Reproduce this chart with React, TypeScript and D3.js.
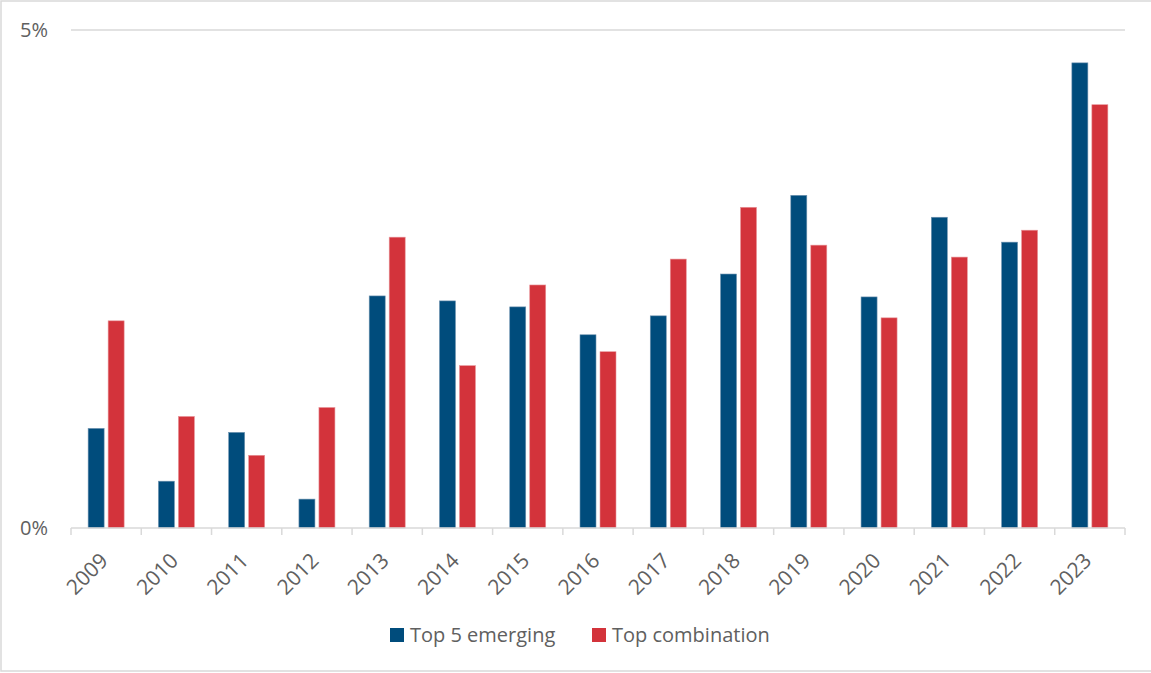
import React from "react";
import * as d3 from "d3";

const years = ["2009","2010","2011","2012","2013","2014","2015","2016","2017","2018","2019","2020","2021","2022","2023"];
const seriesNames = ["Top 5 emerging", "Top combination"];
const emerging = [1.0, 0.47, 0.96, 0.29, 2.33, 2.28, 2.22, 1.94, 2.13, 2.55, 3.34, 2.32, 3.12, 2.87, 4.67];
const combination = [2.08, 1.12, 0.73, 1.21, 2.92, 1.63, 2.44, 1.77, 2.70, 3.22, 2.84, 2.11, 2.72, 2.99, 4.25];
const yTicks = [0, 5];
const colors = ["#004C7C", "#D3333B"];

const W = 1151, H = 673;
const left = 71, right = 1125, top = 30, bottom = 528;
const FONT = "'Open Sans', 'Noto Sans', sans-serif";

export default function App() {
  const x0 = d3.scaleBand<string>().domain(years).range([left, right]).padding(0);
  const bw = x0.bandwidth();
  const x1 = d3.scaleBand<string>().domain(seriesNames).range([bw / 2 - 18, bw / 2 + 18]).paddingInner(0.2);
  const y = d3.scaleLinear().domain([0, 5]).range([bottom, top]);
  const data = [emerging, combination];

  return (
    <svg width={W} height={H} style={{ position: "absolute", left: 0, top: 0, background: "#fff" }}>
      <rect x={1} y={1} width={W + 5} height={670} fill="#fff" stroke="#d9d9d9" strokeWidth={1.5} />
      {yTicks.map((t) => (
        <g key={t}>
          {t !== 0 && <line x1={left} x2={right} y1={y(t)} y2={y(t)} stroke="#d9d9d9" strokeWidth={1.5} />}
          <text x={48} y={y(t)} dy="0.36em" textAnchor="end" fontFamily={FONT} fontSize={20} fill="#606060">
            {t}%
          </text>
        </g>
      ))}
      {years.map((yr, i) => (
        <g key={yr}>
          {data.map((vals, s) => (
            <rect
              key={s}
              x={(x0(yr) as number) + (x1(seriesNames[s]) as number)}
              y={y(vals[i])}
              width={x1.bandwidth()}
              height={y(0) - y(vals[i])}
              fill={colors[s]}
              stroke={s === 0 ? "#6f93b0" : "#e8959a"}
              strokeWidth={0.6}
            />
          ))}
        </g>
      ))}
      <line x1={left} x2={right} y1={bottom} y2={bottom} stroke="#d9d9d9" strokeWidth={1.5} />
      {d3.range(years.length + 1).map((i) => {
        const xx = left + i * bw;
        return <line key={i} x1={xx} x2={xx} y1={bottom} y2={bottom + 7} stroke="#d9d9d9" strokeWidth={1.5} />;
      })}
      {years.map((yr) => {
        const cx = (x0(yr) as number) + bw / 2;
        return (
          <text
            key={yr}
            transform={`translate(${cx + 3},${bottom + 34}) rotate(-45)`}
            textAnchor="end"
            fontFamily={FONT}
            fontSize={21}
            fill="#606060"
          >
            {yr}
          </text>
        );
      })}
      {seriesNames.map((n, s) => {
        const lx = s === 0 ? 390 : 592;
        return (
          <g key={n}>
            <rect x={lx} y={628} width={14} height={14} fill={colors[s]} />
            <text x={lx + 20} y={635} dy="0.36em" fontFamily={FONT} fontSize={20} fill="#606060">
              {n}
            </text>
          </g>
        );
      })}
    </svg>
  );
}
